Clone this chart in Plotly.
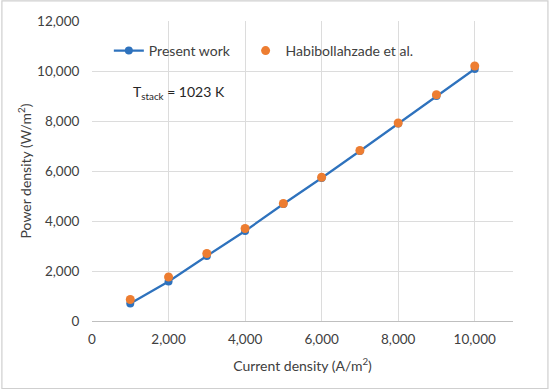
import plotly.graph_objects as go

current_density = [1000, 2000, 3000, 4000, 5000, 6000, 7000, 8000, 9000, 10000]
present_work = [700, 1580, 2600, 3600, 4680, 5720, 6800, 7900, 9000, 10080]
habibollahzade = [860, 1760, 2700, 3700, 4700, 5750, 6820, 7920, 9050, 10200]

blue = "#2E72BD"
orange = "#ED7D31"
font_family = "Lato, 'Open Sans', sans-serif"

fig = go.Figure()
fig.add_trace(go.Scatter(
    x=current_density, y=present_work, mode="lines+markers", name="Present work   ",
    line=dict(color=blue, width=2.2), marker=dict(color=blue, size=8)))
fig.add_trace(go.Scatter(
    x=current_density, y=habibollahzade, mode="markers", name="Habibollahzade et al.",
    marker=dict(color=orange, size=9)))

fig.update_layout(
    width=550, height=392,
    margin=dict(l=92, r=37, t=21, b=71),
    paper_bgcolor="white", plot_bgcolor="white",
    font=dict(family=font_family, size=12, color="#404040"),
    showlegend=True,
    legend=dict(orientation="h", x=0.04, y=0.90, xanchor="left", yanchor="middle",
                bgcolor="rgba(255,255,255,0)", font=dict(size=14, color="#404040"),
                itemwidth=30, tracegroupgap=0),
    xaxis=dict(range=[0, 11000], tickvals=[0, 2000, 4000, 6000, 8000, 10000],
               tickformat=",", showgrid=True, gridcolor="#DCDCDC", gridwidth=1,
               zeroline=False, showline=True, linecolor="#BFBFBF", linewidth=1,
               ticks="outside", ticklen=6, tickcolor="rgba(0,0,0,0)", tickfont=dict(size=13.5),
               title=dict(text="Current density (A/m<sup>2</sup>)", font=dict(size=14), standoff=14)),
    yaxis=dict(range=[0, 12000], tickvals=[0, 2000, 4000, 6000, 8000, 10000, 12000],
               tickformat=",", showgrid=True, gridcolor="#DCDCDC", gridwidth=1,
               zeroline=False, showline=False, ticks="outside", ticklen=9,
               tickcolor="rgba(0,0,0,0)", tickfont=dict(size=13.5),
               title=dict(text="Power density (W/m<sup>2</sup>)", font=dict(size=14), standoff=2)),
)

fig.add_annotation(x=2280, y=9150, xref="x", yref="y",
                   text="T<sub>stack</sub> = 1023 K", showarrow=False,
                   font=dict(size=14, color="#262626"))

fig.add_shape(type="rect", xref="paper", yref="paper",
              x0=-0.214, x1=1.083, y0=-0.225, y1=1.067,
              line=dict(color="#CFCFCF", width=1.2), fillcolor="rgba(0,0,0,0)", layer="above")

fig.write_html("out.html", config={"displayModeBar": False},
               post_script="document.body.style.margin='0';document.body.style.padding='0';")
